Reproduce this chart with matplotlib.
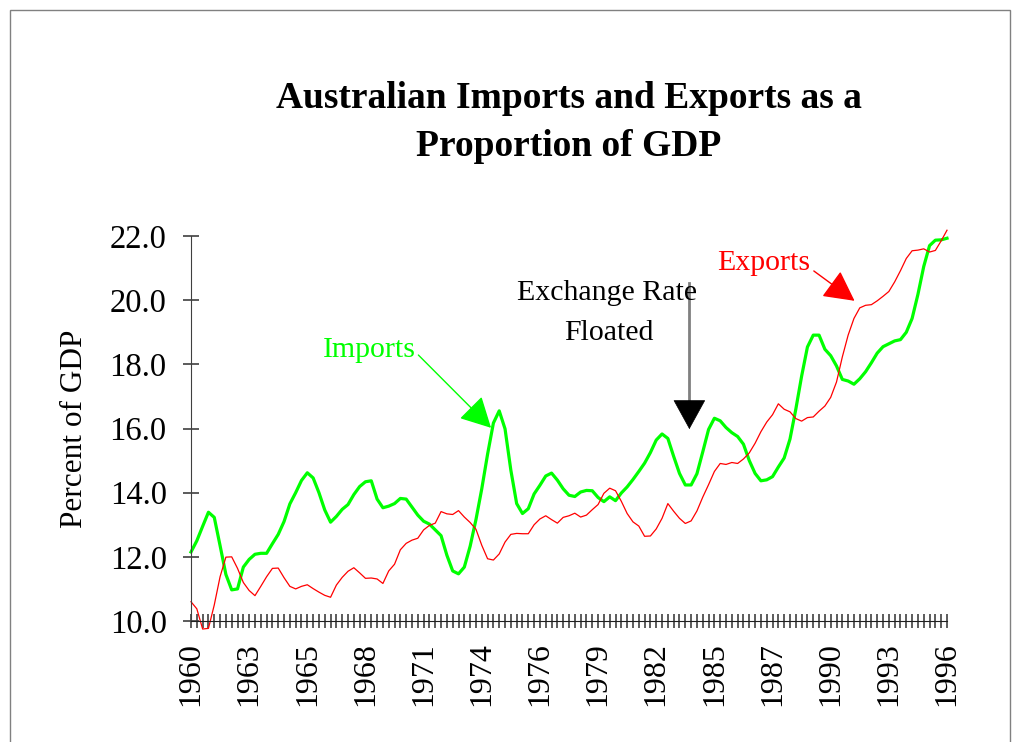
import matplotlib
matplotlib.use("Agg")
import matplotlib.pyplot as plt
from matplotlib.patches import Rectangle
from matplotlib.ticker import MultipleLocator, FixedLocator, FixedFormatter

plt.rcParams['font.family'] = ['Liberation Serif', 'DejaVu Serif']

imports = [12.15, 12.5, 12.95, 13.39, 13.23, 12.35, 11.45, 10.97, 11.0, 11.68,
           11.92, 12.08, 12.11, 12.11, 12.41, 12.7, 13.1, 13.65, 14.0, 14.38,
           14.62, 14.46, 14.0, 13.46, 13.08, 13.26, 13.48, 13.63, 13.94, 14.19,
           14.34, 14.37, 13.8, 13.53, 13.58, 13.66, 13.82, 13.8, 13.55, 13.3,
           13.11, 13.02, 12.84, 12.66, 12.05, 11.56, 11.47, 11.68, 12.33, 13.16,
           14.12, 15.2, 16.17, 16.55, 15.99, 14.7, 13.66, 13.35, 13.5, 13.96,
           14.23, 14.52, 14.61, 14.39, 14.12, 13.92, 13.88, 14.02, 14.07, 14.06,
           13.85, 13.72, 13.87, 13.75, 13.99, 14.18, 14.41, 14.66, 14.92, 15.25,
           15.64, 15.83, 15.69, 15.13, 14.6, 14.24, 14.24, 14.59, 15.27, 15.97,
           16.32, 16.24, 16.03, 15.87, 15.75, 15.51, 15.0, 14.6, 14.37, 14.4,
           14.5, 14.8, 15.08, 15.67, 16.6, 17.63, 18.54, 18.91, 18.91, 18.47,
           18.27, 17.95, 17.53, 17.48, 17.38, 17.55, 17.77, 18.05, 18.35, 18.55,
           18.64, 18.73, 18.77, 19.0, 19.43, 20.18, 21.05, 21.7, 21.87, 21.88,
           21.93]

exports = [10.6, 10.38, 9.75, 9.77, 10.5, 11.38, 11.99, 12.0, 11.64, 11.2,
           10.95, 10.79, 11.08, 11.38, 11.64, 11.65, 11.35, 11.08, 11.0, 11.08,
           11.13, 11.01, 10.9, 10.8, 10.74, 11.12, 11.36, 11.55, 11.66, 11.5,
           11.33, 11.34, 11.31, 11.17, 11.56, 11.77, 12.22, 12.42, 12.52, 12.58,
           12.84, 12.98, 13.05, 13.41, 13.34, 13.32, 13.44, 13.24, 13.07, 12.86,
           12.36, 11.94, 11.9, 12.09, 12.46, 12.7, 12.73, 12.72, 12.72, 13.0,
           13.18, 13.28, 13.16, 13.05, 13.23, 13.28, 13.36, 13.24, 13.3, 13.47,
           13.63, 13.98, 14.14, 14.06, 13.73, 13.35, 13.09, 12.96, 12.64, 12.65,
           12.87, 13.2, 13.66, 13.42, 13.2, 13.04, 13.12, 13.43, 13.86, 14.25,
           14.66, 14.91, 14.88, 14.94, 14.91, 15.05, 15.24, 15.54, 15.9, 16.2,
           16.43, 16.77, 16.6, 16.52, 16.31, 16.23, 16.34, 16.36, 16.54, 16.7,
           16.97, 17.45, 18.23, 18.91, 19.43, 19.76, 19.84, 19.86, 19.98, 20.12,
           20.27, 20.57, 20.92, 21.3, 21.54, 21.56, 21.6, 21.5, 21.55, 21.85,
           22.18]

year_labels = ['1960', '1963', '1965', '1968', '1971', '1974', '1976',
               '1979', '1982', '1985', '1987', '1990', '1993', '1996']
label_every = 10

x = list(range(len(imports)))

fig = plt.figure(figsize=(10.13, 7.42), dpi=100)
# thin frame round the whole chart area
fig.patches.append(Rectangle((10/1013, -0.05), 1000/1013, 0.05 + 732/742,
                             transform=fig.transFigure, fill=False,
                             edgecolor='#808080', linewidth=1))

ax = fig.add_axes([191/1013, 121/742, 756/1013, 385/742])
ax.plot(x, imports, color='#00FF00', linewidth=2.3, clip_on=False)
ax.plot(x, exports, color='#FF0000', linewidth=0.9, clip_on=False)

ax.set_xlim(0, len(imports) - 1)
ax.set_ylim(10, 22)
for s in ['top', 'right']:
    ax.spines[s].set_visible(False)
ax.spines['left'].set_color('#404040')
ax.spines['bottom'].set_color('#202020')

ax.yaxis.set_major_locator(MultipleLocator(2))
ax.set_yticklabels([f"{v:.1f}" for v in ax.get_yticks()])
ax.tick_params(axis='y', direction='inout', length=11, width=1.2,
               color='#404040', labelsize=23.5, pad=12)

ticks = [i * label_every for i in range(len(year_labels))]
ax.xaxis.set_major_locator(FixedLocator(ticks))
ax.xaxis.set_major_formatter(FixedFormatter(year_labels))
ax.xaxis.set_minor_locator(MultipleLocator(1))
ax.tick_params(axis='x', which='both', direction='inout', length=10, width=1.1,
               color='#303030', labelsize=23, pad=10, labelrotation=90)

ax.set_ylabel("Percent of GDP", fontsize=22.5, labelpad=15)

fig.text(569/1013, 1 - 99/742, "Australian Imports and Exports as a",
         ha='center', va='center', fontsize=27, fontweight='bold')
fig.text(569/1013, 1 - 147/742, "Proportion of GDP",
         ha='center', va='center', fontsize=27, fontweight='bold')

# annotations
ax.text(30.6, 18.45, "Imports", color='#00FF00', fontsize=21.5,
        ha='center', va='center')
ax.annotate('', xy=(51.6, 16.02), xytext=(39.1, 18.29),
            arrowprops=dict(arrowstyle='-|>,head_length=0.95,head_width=0.5',
                            mutation_scale=20, color='#00FF00', lw=1,
                            shrinkA=0, shrinkB=0))

ax.text(98.5, 21.16, "Exports", color='#FF0000', fontsize=21.5,
        ha='center', va='center')
ax.annotate('', xy=(114.1, 19.98), xytext=(107.1, 20.91),
            arrowprops=dict(arrowstyle='-|>,head_length=0.95,head_width=0.5',
                            mutation_scale=20, color='#FF0000', lw=1,
                            shrinkA=0, shrinkB=0))

ax.text(71.6, 20.22, "Exchange Rate", color='black', fontsize=21.5,
        ha='center', va='center')
ax.text(71.8, 18.98, "Floated", color='black', fontsize=21.5,
        ha='center', va='center')
# grey shaft, black head
ax.plot([85.7, 85.7], [20.54, 16.6], color='#808080', linewidth=2)
ax.annotate('', xy=(85.7, 15.98), xytext=(85.7, 16.8),
            arrowprops=dict(arrowstyle='-|>,head_length=1.0,head_width=0.55',
                            mutation_scale=20, color='black', lw=0.5,
                            shrinkA=0, shrinkB=0))

plt.savefig("out.png", dpi=100)
